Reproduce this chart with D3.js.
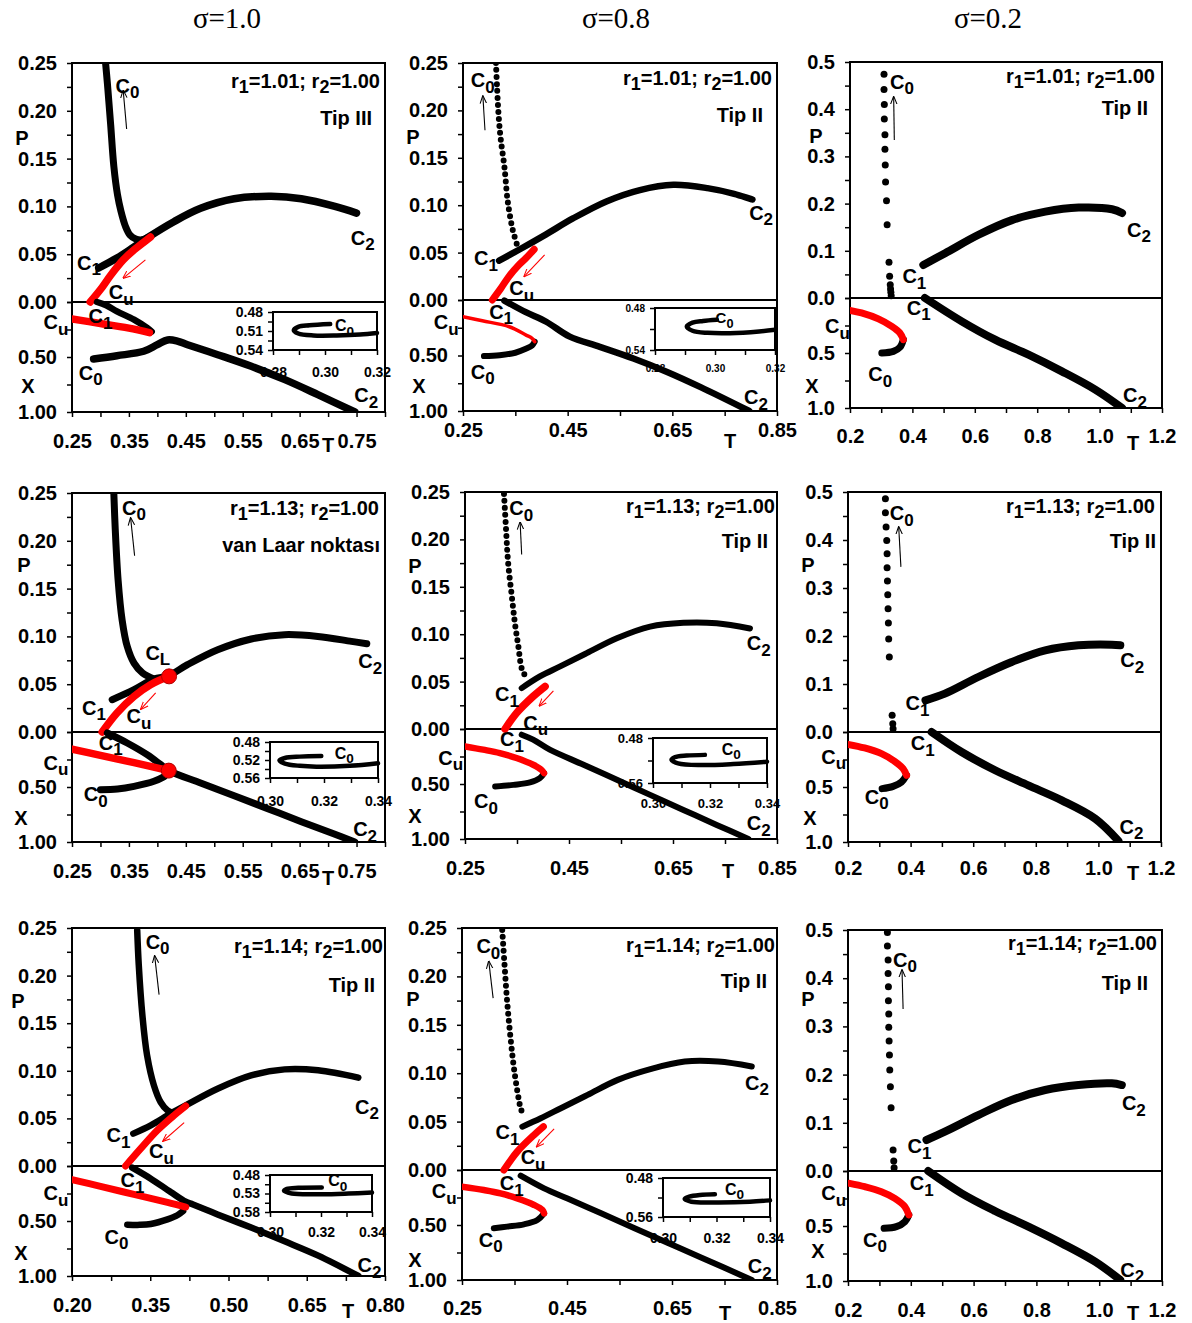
<!DOCTYPE html>
<html><head><meta charset="utf-8">
<script src="https://cdn.jsdelivr.net/npm/d3@7"></script>
<style>
body{margin:0;background:#fff;}
svg text{font-family:"Liberation Sans",Arial,sans-serif;font-weight:bold;fill:#000;}
</style></head><body>
<svg id="c" width="1192" height="1323"></svg>
<script>
// ---------------- text / tick data ----------------
const sigmaTitles = ["σ=1.0", "σ=0.8", "σ=0.2"];
const r1Values = ["1.01", "1.13", "1.14"];
const typeLabels = [["Tip III", "Tip II", "Tip II"], ["van Laar noktası", "Tip II", "Tip II"], ["Tip II", "Tip II", "Tip II"]];
const tTicksA = [0.25, 0.35, 0.45, 0.55, 0.65, 0.75];
const tTicksB = [0.25, 0.45, 0.65, 0.85];
const tTicksC = [0.2, 0.4, 0.6, 0.8, 1.0, 1.2];
const tTicksD = [0.20, 0.35, 0.50, 0.65, 0.80];
const pTicks25 = [0, 0.05, 0.10, 0.15, 0.20, 0.25];
const pTicks5 = [0, 0.1, 0.2, 0.3, 0.4, 0.5];
const xTicksLow = [0.5, 1.0];

// ---------------- sigma=1.0, r1=1.01 ----------------
const s10a_PC0 = [[0.309,0.25],[0.312,0.23],[0.3147,0.21],[0.318,0.185],[0.3235,0.142],[0.330,0.112],[0.336,0.095],[0.344,0.079],[0.352,0.070],[0.362,0.066],[0.372,0.065],[0.382,0.067]];
const s10a_PC12 = [[0.297,0.0356],[0.329,0.046],[0.355,0.056],[0.382,0.067],[0.429,0.084],[0.476,0.098],[0.535,0.108],[0.600,0.1105],[0.653,0.108],[0.712,0.100],[0.750,0.093]];
const s10a_PCu = [[0.282,0],[0.300,0.013],[0.318,0.028],[0.340,0.044],[0.360,0.055],[0.375,0.062],[0.388,0.068]];
const s10a_XC1 = [[0.294,0],[0.31,0.03],[0.329,0.085],[0.359,0.16],[0.382,0.236],[0.39,0.27]];
const s10a_XCu = [[0.25,0.155],[0.30,0.195],[0.35,0.238],[0.386,0.278]];
const s10a_XC0 = [[0.288,0.518],[0.329,0.488],[0.376,0.448],[0.40,0.388],[0.418,0.345],[0.435,0.355],[0.453,0.388],[0.506,0.479],[0.565,0.585],[0.624,0.706],[0.682,0.842],[0.747,1.0]];
const s10a_inset = [[0.302,0.499],[0.294,0.501],[0.2897,0.5035],[0.288,0.5087],[0.2897,0.5139],[0.2955,0.517],[0.3045,0.517],[0.3135,0.5155],[0.32,0.513]];
const s10a_arrowK = [[0.346,0.181],[0.340,0.221]];
const s10a_arrowR = [[0.379,0.044],[0.340,0.025]];

// ---------------- sigma=0.8, r1=1.01 ----------------
const s08a_PC0 = [[0.313,0.25],[0.315,0.225],[0.318,0.195],[0.322,0.17],[0.329,0.141],[0.335,0.106],[0.340,0.088],[0.345,0.074],[0.3545,0.056]];
const s08a_PC12 = [[0.319,0.0415],[0.357,0.053],[0.408,0.069],[0.46,0.086],[0.524,0.104],[0.588,0.116],[0.652,0.1215],[0.717,0.118],[0.768,0.112],[0.803,0.106]];
const s08a_PCu = [[0.306,0],[0.322,0.012],[0.338,0.025],[0.355,0.036],[0.37,0.044],[0.386,0.0535]];
const s08a_XC1 = [[0.329,0.005],[0.37,0.11],[0.409,0.196],[0.454,0.33],[0.5115,0.422],[0.5756,0.527],[0.64,0.648],[0.704,0.785],[0.797,1.0]];
const s08a_XCu = [[0.25,0.15],[0.287,0.187],[0.3385,0.241],[0.3705,0.316],[0.382,0.345],[0.387,0.376]];
const s08a_XC0 = [[0.387,0.376],[0.382,0.41],[0.37,0.44],[0.35,0.475],[0.32,0.497],[0.29,0.505]];
const s08a_inset = [[0.3006,0.4968],[0.296,0.4985],[0.2925,0.501],[0.2906,0.5065],[0.2925,0.5125],[0.2975,0.5155],[0.305,0.516],[0.3147,0.5135],[0.32,0.511]];
const s08a_arrowK = [[0.292,0.179],[0.288,0.215]];
const s08a_arrowR = [[0.406,0.0475],[0.367,0.025]];

// ---------------- sigma=0.2, r1=1.01 ----------------
const s02a_PC0 = [[0.309,0.474],[0.309,0.4415],[0.31,0.41],[0.31,0.379],[0.312,0.346],[0.312,0.315],[0.313,0.282],[0.314,0.246],[0.317,0.206],[0.319,0.155],[0.325,0.076],[0.327,0.046],[0.329,0.028],[0.330,0.019],[0.331,0.012],[0.332,0.005]];
const s02a_PC12 = [[0.435,0.070],[0.505,0.095],[0.612,0.134],[0.719,0.165],[0.826,0.183],[0.933,0.1915],[1.04,0.188],[1.072,0.18]];
const s02a_XC1 = [[0.44,0],[0.558,0.212],[0.665,0.379],[0.772,0.515],[0.879,0.667],[0.986,0.833],[1.072,1.0]];
const s02a_XCu = [[0.2,0.112],[0.237,0.136],[0.291,0.19],[0.334,0.258],[0.36,0.318],[0.371,0.379]];
const s02a_XC0 = [[0.371,0.379],[0.36,0.448],[0.339,0.485],[0.302,0.5]];
const s02a_arrowK = [[0.342,0.3345],[0.34,0.426]];

// ---------------- sigma=1.0, r1=1.13 ----------------
const s10b_PC0 = [[0.3235,0.25],[0.326,0.212],[0.331,0.159],[0.338,0.1175],[0.347,0.0896],[0.359,0.072],[0.374,0.0617],[0.394,0.0554]];
const s10b_PC12 = [[0.3206,0.0338],[0.359,0.0443],[0.394,0.0554],[0.42,0.059],[0.453,0.0704],[0.506,0.086],[0.565,0.0973],[0.6235,0.1018],[0.682,0.1],[0.741,0.0948],[0.768,0.0924]];
const s10b_PCu = [[0.303,0],[0.329,0.0199],[0.359,0.0373],[0.388,0.0495],[0.4206,0.0582]];
const s10b_XC1 = [[0.312,0.009],[0.347,0.1],[0.382,0.206],[0.406,0.297],[0.42,0.351],[0.476,0.4636],[0.535,0.579],[0.594,0.697],[0.653,0.815],[0.712,0.93],[0.747,1.0]];
const s10b_XCu = [[0.25,0.155],[0.30,0.212],[0.359,0.279],[0.42,0.351]];
const s10b_XC0 = [[0.30,0.524],[0.33,0.518],[0.359,0.494],[0.394,0.448],[0.412,0.405]];
const s10b_vanLaar = [[0.4206,0.0582,"P"],[0.42,0.351,"X"]];
const s10b_inset = [[0.319,0.5113],[0.311,0.5125],[0.3055,0.5155],[0.3035,0.521],[0.3055,0.528],[0.311,0.533],[0.3172,0.535],[0.3295,0.533],[0.34,0.5273]];
const s10b_arrowK = [[0.36,0.1844],[0.353,0.2238]];
const s10b_arrowR = [[0.397,0.0408],[0.371,0.024]];

// ---------------- sigma=0.8, r1=1.13 ----------------
const s08b_PC0 = [[0.325,0.248],[0.329,0.21],[0.333,0.175],[0.34,0.14],[0.346,0.1115],[0.3526,0.087],[0.359,0.064],[0.367,0.0547]];
const s08b_PC12 = [[0.359,0.0431],[0.394,0.0554],[0.433,0.066],[0.484,0.08],[0.542,0.0957],[0.606,0.108],[0.67,0.112],[0.734,0.1115],[0.798,0.106]];
const s08b_PCu = [[0.327,0],[0.349,0.0168],[0.381,0.0344],[0.404,0.0449]];
const s08b_XC1 = [[0.359,0.052],[0.381,0.097],[0.413,0.188],[0.478,0.325],[0.542,0.462],[0.606,0.599],[0.67,0.736],[0.734,0.872],[0.795,1.0]];
const s08b_XCu = [[0.25,0.158],[0.285,0.188],[0.317,0.219],[0.349,0.264],[0.381,0.325],[0.397,0.371],[0.402,0.401]];
const s08b_XC0 = [[0.402,0.401],[0.394,0.447],[0.375,0.486],[0.343,0.508],[0.308,0.523]];
const s08b_inset = [[0.3182,0.51],[0.3118,0.5113],[0.3076,0.5143],[0.3065,0.519],[0.3088,0.525],[0.3165,0.5281],[0.3282,0.5263],[0.34,0.5221]];
const s08b_arrowK = [[0.359,0.184],[0.356,0.218]];
const s08b_arrowR = [[0.42,0.0403],[0.393,0.0245]];

// ---------------- sigma=0.2, r1=1.13 ----------------
const s02b_PC0 = [[0.3195,0.486],[0.3195,0.457],[0.3217,0.427],[0.3238,0.399],[0.3249,0.3715],[0.3249,0.342],[0.326,0.3146],[0.327,0.286],[0.328,0.257],[0.329,0.227],[0.330,0.194],[0.332,0.156],[0.341,0.0347],[0.343,0.0174],[0.344,0.007]];
const s02b_PC12 = [[0.4476,0.066],[0.5095,0.0799],[0.616,0.1146],[0.723,0.1458],[0.83,0.170],[0.936,0.1806],[1.043,0.182],[1.07,0.1806]];
const s02b_XC1 = [[0.467,0],[0.563,0.182],[0.67,0.348],[0.776,0.485],[0.883,0.621],[0.99,0.788],[1.064,0.99]];
const s02b_XCu = [[0.2,0.112],[0.253,0.145],[0.307,0.197],[0.349,0.267],[0.376,0.333],[0.387,0.394]];
const s02b_XC0 = [[0.387,0.394],[0.371,0.4545],[0.344,0.494],[0.309,0.515]];
const s02b_arrowK = [[0.369,0.344],[0.362,0.427]];

// ---------------- sigma=1.0, r1=1.14 ----------------
const s10c_PC0 = [[0.325,0.2476],[0.328,0.211],[0.335,0.158],[0.344,0.116],[0.357,0.0847],[0.37,0.067],[0.383,0.0585],[0.3926,0.056]];
const s10c_PC12 = [[0.3175,0.034],[0.351,0.0427],[0.389,0.055],[0.418,0.0637],[0.479,0.0812],[0.5434,0.0952],[0.6076,0.1015],[0.6718,0.1005],[0.7488,0.0928]];
const s10c_PCu = [[0.3027,0],[0.3316,0.0182],[0.3637,0.0375],[0.3958,0.0532],[0.418,0.063]];
const s10c_XC1 = [[0.3155,0.015],[0.351,0.115],[0.389,0.236],[0.418,0.325],[0.432,0.35],[0.479,0.44],[0.5434,0.56],[0.6076,0.685],[0.672,0.815],[0.749,1.0]];
const s10c_XCu = [[0.2,0.124],[0.2546,0.185],[0.3187,0.258],[0.383,0.33],[0.418,0.373]];
const s10c_XC0 = [[0.306,0.533],[0.33,0.535],[0.351,0.527],[0.383,0.485],[0.402,0.448],[0.413,0.41]];
const s10c_inset = [[0.3203,0.5136],[0.3111,0.5145],[0.3066,0.5173],[0.3055,0.5227],[0.3085,0.53],[0.3203,0.5318],[0.3308,0.53],[0.34,0.5273]];
const s10c_arrowK = [[0.3669,0.18],[0.3585,0.2206]];
const s10c_arrowR = [[0.415,0.0455],[0.3746,0.0263]];

// ---------------- sigma=0.8, r1=1.14 ----------------
const s08c_PC0 = [[0.3266,0.248],[0.331,0.212],[0.336,0.174],[0.3425,0.136],[0.349,0.105],[0.3566,0.0776],[0.3617,0.0638],[0.368,0.055]];
const s08c_PC12 = [[0.3649,0.0448],[0.40,0.0534],[0.4383,0.0638],[0.4893,0.0776],[0.5467,0.0931],[0.6106,0.1045],[0.6744,0.112],[0.738,0.112],[0.802,0.107]];
const s08c_PCu = [[0.3298,0],[0.3553,0.019],[0.3872,0.0362],[0.405,0.0448]];
const s08c_XC1 = [[0.3617,0.0515],[0.4064,0.167],[0.451,0.26],[0.515,0.394],[0.5787,0.53],[0.6425,0.664],[0.7063,0.797],[0.802,1.0]];
const s08c_XCu = [[0.25,0.152],[0.2915,0.182],[0.3234,0.212],[0.3553,0.258],[0.3872,0.318],[0.4032,0.364],[0.4063,0.394]];
const s08c_XC0 = [[0.4063,0.394],[0.3936,0.4545],[0.368,0.494],[0.336,0.515],[0.3106,0.53]];
const s08c_inset = [[0.3194,0.5134],[0.3138,0.5148],[0.3098,0.5183],[0.3081,0.5231],[0.3106,0.5287],[0.32,0.5301],[0.3325,0.5287],[0.34,0.5259]];
const s08c_arrowK = [[0.3093,0.1776],[0.301,0.2155]];
const s08c_arrowR = [[0.4255,0.0424],[0.3923,0.0241]];

// ---------------- sigma=0.2, r1=1.14 ----------------
const s02c_PC0 = [[0.3255,0.495],[0.3255,0.467],[0.3277,0.438],[0.3277,0.41],[0.3287,0.3824],[0.3287,0.3534],[0.3298,0.3257],[0.3298,0.298],[0.3309,0.2697],[0.332,0.2407],[0.333,0.2095],[0.335,0.175],[0.3372,0.1314],[0.3436,0.0436],[0.3457,0.0207],[0.3468,0.0069]];
const s02c_PC12 = [[0.45,0.0643],[0.5085,0.0816],[0.615,0.116],[0.7213,0.1473],[0.8277,0.168],[0.934,0.1784],[1.04,0.1819],[1.072,0.1784]];
const s02c_XC1 = [[0.4553,0],[0.5617,0.203],[0.668,0.3636],[0.7745,0.506],[0.881,0.6576],[0.987,0.824],[1.067,0.99]];
const s02c_XCu = [[0.205,0.112],[0.2532,0.1424],[0.3064,0.188],[0.349,0.2485],[0.381,0.324],[0.3936,0.4]];
const s02c_XC0 = [[0.3936,0.4],[0.381,0.4606],[0.354,0.506],[0.315,0.521]];
const s02c_arrowK = [[0.3755,0.336],[0.372,0.417]];

// ---------------- curve labels: [main, sub, T, value, part] ----------------
const s10a_labels = [["C","0",0.3265,0.219,"P"],["C","1",0.259,0.0338,"P"],["C","2",0.74,0.06,"P"],["C","u",0.3147,0.003,"P"],["C","u",0.20,0.245,"X"],["C","1",0.279,0.19,"X"],["C","0",0.2618,0.706,"X"],["C","2",0.746,0.912,"X"]];
const s08a_labels = [["C","0",0.2647,0.2246,"P"],["C","1",0.2712,0.037,"P"],["C","2",0.7968,0.0845,"P"],["C","u",0.3385,0.0053,"P"],["C","u",0.1942,0.262,"X"],["C","1",0.30,0.17,"X"],["C","0",0.2647,0.708,"X"],["C","2",0.787,0.94,"X"]];
const s02a_labels = [["C","0",0.328,0.4437,"P"],["C","1",0.368,0.0317,"P"],["C","2",1.0877,0.130,"P"],["C","1",0.3818,0.1515,"X"],["C","u",0.1198,0.318,"X"],["C","0",0.2588,0.7576,"X"],["C","2",1.0749,0.948,"X"]];
const s10b_labels = [["C","0",0.338,0.2273,"P"],["C","L",0.379,0.0757,"P"],["C","1",0.2676,0.0181,"P"],["C","2",0.753,0.067,"P"],["C","u",0.3459,0.0094,"P"],["C","1",0.297,0.16,"X"],["C","u",0.20,0.342,"X"],["C","0",0.2706,0.63,"X"],["C","2",0.744,0.948,"X"]];
const s08b_labels = [["C","0",0.3353,0.2255,"P"],["C","1",0.3077,0.0291,"P"],["C","2",0.7917,0.0834,"P"],["C","u",0.3622,-0.0007,"P"],["C","1",0.3173,0.158,"X"],["C","u",0.1987,0.325,"X"],["C","0",0.2673,0.72,"X"],["C","2",0.7917,0.918,"X"]];
const s02b_labels = [["C","0",0.3334,0.441,"P"],["C","1",0.3836,0.045,"P"],["C","2",1.07,0.1354,"P"],["C","1",0.4006,0.1667,"X"],["C","u",0.1146,0.288,"X"],["C","0",0.2534,0.6515,"X"],["C","2",1.0677,0.924,"X"]];
const s10c_labels = [["C","0",0.3412,0.2283,"P"],["C","1",0.2661,0.0252,"P"],["C","2",0.7424,0.055,"P"],["C","u",0.3476,0.0084,"P"],["C","1",0.2931,0.191,"X"],["C","u",0.1454,0.312,"X"],["C","0",0.2623,0.706,"X"],["C","2",0.7475,0.9636,"X"]];
const s08c_labels = [["C","0",0.2774,0.224,"P"],["C","1",0.3138,0.0321,"P"],["C","2",0.7892,0.0828,"P"],["C","u",0.3617,0.0059,"P"],["C","1",0.3221,0.182,"X"],["C","u",0.1926,0.2576,"X"],["C","0",0.2819,0.697,"X"],["C","2",0.7943,0.939,"X"]];
const s02c_labels = [["C","0",0.3436,0.424,"P"],["C","1",0.3894,0.0367,"P"],["C","2",1.0723,0.1266,"P"],["C","1",0.3968,0.1727,"X"],["C","u",0.1149,0.2636,"X"],["C","0",0.2479,0.688,"X"],["C","2",1.067,0.96,"X"]];
// inset C0 label anchors (main-panel data coordinates)
const insetC0Labels = [[0.712,0.267],[0.7327,0.211],null,[0.7118,0.245],[0.7436,0.234],null,[0.691,0.182],[0.751,0.227],null];

// ---------------- layout ----------------
const layout = [
 {l:72,r:385,t:63,m:302,b:412,tDom:[0.25,0.80],tLab:tTicksA,tStep:0.05,col:0,xBase:448,Tpos:[328,452],Ppos:[22,145],Xpos:[28,393],ann:[380,88],tip:[372,125]},
 {l:463,r:777,t:63,m:300,b:411,tDom:[0.25,0.85],tLab:tTicksB,tStep:0.1,col:1,xBase:437,Tpos:[730,448],Ppos:[413,144],Xpos:[419,393],ann:[772,85],tip:[763,122]},
 {l:850,r:1162,t:62,m:298,b:408,tDom:[0.2,1.2],tLab:tTicksC,tStep:0.1,col:2,xBase:443,Tpos:[1133,450],Ppos:[816,143],Xpos:[812,393],ann:[1155,83],tip:[1148,115]},
 {l:72,r:385,t:493,m:732,b:842,tDom:[0.25,0.80],tLab:tTicksA,tStep:0.05,col:0,xBase:878,Tpos:[328,885],Ppos:[24,572],Xpos:[21,825],ann:[379,515],tip:[380,552]},
 {l:465,r:777,t:492,m:729,b:839,tDom:[0.25,0.85],tLab:tTicksB,tStep:0.1,col:1,xBase:875,Tpos:[728,878],Ppos:[415,573],Xpos:[415,823],ann:[775,513],tip:[768,548]},
 {l:848,r:1161,t:492,m:732,b:842,tDom:[0.2,1.2],tLab:tTicksC,tStep:0.1,col:2,xBase:875,Tpos:[1133,880],Ppos:[808,572],Xpos:[810,825],ann:[1155,513],tip:[1156,548]},
 {l:72,r:385,t:928,m:1166,b:1276,tDom:[0.2,0.8],tLab:tTicksD,tStep:0.075,col:0,xBase:1312,Tpos:[348,1318],Ppos:[18,1008],Xpos:[21,1260],ann:[383,953],tip:[375,992]},
 {l:462,r:777,t:928,m:1170,b:1280,tDom:[0.25,0.85],tLab:tTicksB,tStep:0.1,col:1,xBase:1315,Tpos:[725,1320],Ppos:[413,1006],Xpos:[415,1267],ann:[775,952],tip:[767,988]},
 {l:848,r:1162,t:930,m:1171,b:1281,tDom:[0.2,1.2],tLab:tTicksC,tStep:0.1,col:2,xBase:1317,Tpos:[1133,1320],Ppos:[808,1006],Xpos:[818,1258],ann:[1157,950],tip:[1148,990]}
];
const insets = [
 {data:s10a_inset,box:[273,312,377,350],tDom:[0.28,0.32],xDom:[0.48,0.54],yLab:[0.48,0.51,0.54],yTicks:[0.48,0.495,0.51,0.525,0.54],xLab:[0.28,0.30,0.32],fs:14,xBase:377,lfs:16},
 {data:s08a_inset,box:[655,308,775,350],tDom:[0.28,0.32],xDom:[0.48,0.54],yLab:[0.48,0.54],yTicks:[0.48,0.51,0.54],xLab:[0.28,0.30,0.32],fs:10,xBase:372,lfs:15},
 null,
 {data:s10b_inset,box:[270,742,378,778],tDom:[0.30,0.34],xDom:[0.48,0.56],yLab:[0.48,0.52,0.56],yTicks:[0.48,0.50,0.52,0.54,0.56],xLab:[0.30,0.32,0.34],fs:14,xBase:806,lfs:16},
 {data:s08b_inset,box:[653,738,767,783],tDom:[0.30,0.34],xDom:[0.48,0.56],yLab:[0.48,0.56],yTicks:[0.48,0.52,0.56],xLab:[0.30,0.32,0.34],fs:13,xBase:808,lfs:16},
 null,
 {data:s10c_inset,box:[270,1175,372,1212],tDom:[0.30,0.34],xDom:[0.48,0.58],yLab:[0.48,0.53,0.58],yTicks:[0.48,0.505,0.53,0.555,0.58],xLab:[0.30,0.32,0.34],fs:14,xBase:1237,lfs:16},
 {data:s08c_inset,box:[663,1178,770,1217],tDom:[0.30,0.34],xDom:[0.48,0.56],yLab:[0.48,0.56],yTicks:[0.48,0.52,0.56],xLab:[0.30,0.32,0.34],fs:14,xBase:1243,lfs:16},
 null
];
const RED = "#ff0000", BLK = "#000";
function seriesFor(k) {
  const S = [
   [ {d:s10a_PC0,p:"P",c:BLK,w:7},{d:s10a_PC12,p:"P",c:BLK,w:7.5},{d:s10a_PCu,p:"P",c:RED,w:7.5},
     {d:s10a_XC0,p:"X",c:BLK,w:7.5},{d:s10a_XC1,p:"X",c:BLK,w:6.5},{d:s10a_XCu,p:"X",c:RED,w:7.5} ],
   [ {d:s08a_PC0,p:"P",c:BLK,w:6,s:"dotted"},{d:s08a_PC12,p:"P",c:BLK,w:6.5},{d:s08a_PCu,p:"P",c:RED,w:7},
     {d:s08a_XC1,p:"X",c:BLK,w:6.5},{d:s08a_XC0,p:"X",c:BLK,w:6},{d:s08a_XCu,p:"X",c:RED,w:3.5} ],
   [ {d:s02a_PC0,p:"P",c:BLK,w:3.5,s:"dots"},{d:s02a_PC12,p:"P",c:BLK,w:8},
     {d:s02a_XC1,p:"X",c:BLK,w:8},{d:s02a_XC0,p:"X",c:BLK,w:7},{d:s02a_XCu,p:"X",c:RED,w:7} ],
   [ {d:s10b_PC0,p:"P",c:BLK,w:7},{d:s10b_PC12,p:"P",c:BLK,w:7},{d:s10b_PCu,p:"P",c:RED,w:7.5},
     {d:s10b_XC1,p:"X",c:BLK,w:7},{d:s10b_XC0,p:"X",c:BLK,w:7},{d:s10b_XCu,p:"X",c:RED,w:7.5} ],
   [ {d:s08b_PC0,p:"P",c:BLK,w:6,s:"dotted"},{d:s08b_PC12,p:"P",c:BLK,w:6},{d:s08b_PCu,p:"P",c:RED,w:7.5},
     {d:s08b_XC1,p:"X",c:BLK,w:6},{d:s08b_XC0,p:"X",c:BLK,w:6},{d:s08b_XCu,p:"X",c:RED,w:6.5} ],
   [ {d:s02b_PC0,p:"P",c:BLK,w:3.5,s:"dots"},{d:s02b_PC12,p:"P",c:BLK,w:8},
     {d:s02b_XC1,p:"X",c:BLK,w:8},{d:s02b_XC0,p:"X",c:BLK,w:7},{d:s02b_XCu,p:"X",c:RED,w:7} ],
   [ {d:s10c_PC0,p:"P",c:BLK,w:6.5},{d:s10c_PC12,p:"P",c:BLK,w:6.5},{d:s10c_PCu,p:"P",c:RED,w:7},
     {d:s10c_XC1,p:"X",c:BLK,w:6.5},{d:s10c_XC0,p:"X",c:BLK,w:6.5},{d:s10c_XCu,p:"X",c:RED,w:7} ],
   [ {d:s08c_PC0,p:"P",c:BLK,w:6,s:"dotted"},{d:s08c_PC12,p:"P",c:BLK,w:6},{d:s08c_PCu,p:"P",c:RED,w:7},
     {d:s08c_XC1,p:"X",c:BLK,w:6},{d:s08c_XC0,p:"X",c:BLK,w:6},{d:s08c_XCu,p:"X",c:RED,w:6.5} ],
   [ {d:s02c_PC0,p:"P",c:BLK,w:3.5,s:"dots"},{d:s02c_PC12,p:"P",c:BLK,w:8},
     {d:s02c_XC1,p:"X",c:BLK,w:8},{d:s02c_XC0,p:"X",c:BLK,w:7},{d:s02c_XCu,p:"X",c:RED,w:7} ]
  ];
  return S[k];
}
const labelSets = [s10a_labels,s08a_labels,s02a_labels,s10b_labels,s08b_labels,s02b_labels,s10c_labels,s08c_labels,s02c_labels];
const arrowsK = [s10a_arrowK,s08a_arrowK,s02a_arrowK,s10b_arrowK,s08b_arrowK,s02b_arrowK,s10c_arrowK,s08c_arrowK,s02c_arrowK];
const arrowsR = [s10a_arrowR,s08a_arrowR,null,s10b_arrowR,s08b_arrowR,null,s10c_arrowR,s08c_arrowR,null];

// ---------------- drawing ----------------
const svg = d3.select("#c");
const defs = svg.append("defs");
[["ahK",BLK],["ahR",RED]].forEach(([id,col]) => {
  defs.append("marker").attr("id",id).attr("viewBox","0 0 10 10").attr("refX",9).attr("refY",5)
    .attr("markerWidth",8).attr("markerHeight",8).attr("markerUnits","userSpaceOnUse").attr("orient","auto")
    .append("path").attr("d","M0,1 L10,5 L0,9").attr("fill","none").attr("stroke",col).attr("stroke-width",1.3);
});

const steps = (d0,d1,s) => d3.range(0, Math.round((d1-d0)/s)+1).map(i => +(d0+i*s).toFixed(5));
const TFS = 20;

function styleAxis(sel, fs) {
  sel.select(".domain").remove();
  sel.attr("font-family",null).attr("font-size",null);
  sel.selectAll("line").attr("stroke","#000").attr("stroke-width",1.5);
  sel.selectAll("text").attr("font-size",fs).attr("fill","#000");
}

function cLabel(g, x, y, main, sub, fs) {
  const t = g.append("text").attr("x",x).attr("y",y).attr("font-size",fs);
  t.append("tspan").text(main);
  t.append("tspan").attr("dy",fs*0.28).attr("font-size",fs*0.85).text(sub);
}

sigmaTitles.forEach((s,i) => {
  svg.append("text").attr("x",[227,616,988][i]).attr("y",28).attr("text-anchor","middle")
    .style("font-family","'Liberation Serif','Times New Roman',serif").style("font-weight","normal")
    .attr("font-size",29).text(s);
});

layout.forEach((L, k) => {
  const row = Math.floor(k/3);
  const g = svg.append("g");
  const x = d3.scaleLinear().domain(L.tDom).range([L.l, L.r]);
  const pMax = L.col === 2 ? 0.5 : 0.25;
  const yP = d3.scaleLinear().domain([0, pMax]).range([L.m, L.t]);
  const yX = d3.scaleLinear().domain([0, 1]).range([L.m, L.b]);
  const pFmt = d3.format(L.col === 2 ? ".1f" : ".2f");
  const tFmt = d3.format(L.col === 2 ? ".1f" : ".2f");
  const clipId = "clip" + k;
  defs.append("clipPath").attr("id",clipId).append("rect")
    .attr("x",L.l).attr("y",L.t).attr("width",L.r-L.l).attr("height",L.b-L.t);

  // axes: minor ticks
  g.append("g").attr("transform",`translate(${L.l},0)`)
    .call(d3.axisLeft(yP).tickValues(steps(0,pMax,pMax/10)).tickSize(5).tickFormat(""))
    .call(s => styleAxis(s,TFS));
  g.append("g").attr("transform",`translate(${L.l},0)`)
    .call(d3.axisLeft(yX).tickValues([0,0.25,0.5,0.75,1]).tickSize(5).tickFormat(""))
    .call(s => styleAxis(s,TFS));
  g.append("g").attr("transform",`translate(0,${L.b})`)
    .call(d3.axisBottom(x).tickValues(steps(L.tDom[0],L.tDom[1],L.tStep)).tickSize(5).tickFormat(""))
    .call(s => styleAxis(s,TFS));
  // axes: labels
  g.append("g").attr("transform",`translate(${L.l},0)`)
    .call(d3.axisLeft(yP).tickValues(L.col === 2 ? pTicks5 : pTicks25).tickSize(0).tickPadding(15).tickFormat(pFmt))
    .call(s => styleAxis(s,TFS));
  g.append("g").attr("transform",`translate(${L.l},0)`)
    .call(d3.axisLeft(yX).tickValues(xTicksLow).tickSize(0).tickPadding(15).tickFormat(pFmt))
    .call(s => styleAxis(s,TFS));
  g.append("g").attr("transform",`translate(0,${L.b})`)
    .call(d3.axisBottom(x).tickValues(L.tLab).tickSize(0).tickPadding(L.xBase - L.b - 14).tickFormat(tFmt))
    .call(s => styleAxis(s,TFS));

  // frame
  g.append("rect").attr("x",L.l).attr("y",L.t).attr("width",L.r-L.l).attr("height",L.b-L.t)
    .attr("fill","none").attr("stroke","#000").attr("stroke-width",2);
  g.append("line").attr("x1",L.l).attr("x2",L.r).attr("y1",yP(0)).attr("y2",yP(0))
    .attr("stroke","#000").attr("stroke-width",2);

  // axis titles
  g.append("text").attr("x",L.Ppos[0]).attr("y",L.Ppos[1]).attr("text-anchor","middle").attr("font-size",TFS).text("P");
  g.append("text").attr("x",L.Xpos[0]).attr("y",L.Xpos[1]).attr("text-anchor","middle").attr("font-size",TFS).text("X");
  g.append("text").attr("x",L.Tpos[0]).attr("y",L.Tpos[1]).attr("text-anchor","middle").attr("font-size",TFS).text("T");

  // inset
  const I = insets[k];
  if (I) {
    const ig = g.append("g");
    const ix = d3.scaleLinear().domain(I.tDom).range([I.box[0], I.box[2]]);
    const iy = d3.scaleLinear().domain(I.xDom).range([I.box[1], I.box[3]]);
    ig.append("g").attr("transform",`translate(${I.box[0]},0)`)
      .call(d3.axisLeft(iy).tickValues(I.yTicks).tickSize(5).tickFormat("")).call(s => styleAxis(s,I.fs));
    ig.append("g").attr("transform",`translate(${I.box[0]},0)`)
      .call(d3.axisLeft(iy).tickValues(I.yLab).tickSize(0).tickPadding(10).tickFormat(d3.format(".2f"))).call(s => styleAxis(s,I.fs));
    ig.append("g").attr("transform",`translate(0,${I.box[3]})`)
      .call(d3.axisBottom(ix).tickValues(steps(I.tDom[0],I.tDom[1],0.01)).tickSize(5).tickFormat("")).call(s => styleAxis(s,I.fs));
    ig.append("g").attr("transform",`translate(0,${I.box[3]})`)
      .call(d3.axisBottom(ix).tickValues(I.xLab).tickSize(0).tickPadding(I.xBase - I.box[3] - I.fs*0.71).tickFormat(d3.format(".2f"))).call(s => styleAxis(s,I.fs));
    ig.append("rect").attr("x",I.box[0]).attr("y",I.box[1]).attr("width",I.box[2]-I.box[0]).attr("height",I.box[3]-I.box[1])
      .attr("fill","none").attr("stroke","#000").attr("stroke-width",2);
    ig.append("path").attr("d", d3.line().x(d=>ix(d[0])).y(d=>iy(d[1])).curve(d3.curveCatmullRom.alpha(0.5))(I.data))
      .attr("fill","none").attr("stroke","#000").attr("stroke-width",4.5).attr("stroke-linecap","round");
    const lc = insetC0Labels[k];
    cLabel(g, x(lc[0]), yX(lc[1]), "C", "0", I.lfs);
  }

  // curves
  const cg = g.append("g").attr("clip-path",`url(#${clipId})`);
  seriesFor(k).forEach(s => {
    const ys = s.p === "P" ? yP : yX;
    if (s.s === "dots") {
      cg.append("g").selectAll("circle").data(s.d).join("circle")
        .attr("cx",d=>x(d[0])).attr("cy",d=>ys(d[1])).attr("r",s.w).attr("fill",s.c);
    } else {
      cg.append("path").attr("d", d3.line().x(d=>x(d[0])).y(d=>ys(d[1])).curve(d3.curveCatmullRom.alpha(0.5))(s.d))
        .attr("fill","none").attr("stroke",s.c).attr("stroke-width",s.w)
        .attr("stroke-linecap","round").attr("stroke-linejoin","round")
        .attr("stroke-dasharray", s.s === "dotted" ? "0,7" : null);
    }
  });
  if (k === 3) {
    g.selectAll("circle.vl").data(s10b_vanLaar).join("circle").attr("class","vl")
      .attr("cx",d=>x(d[0])).attr("cy",d=>(d[2]==="P"?yP:yX)(d[1])).attr("r",7.5)
      .attr("fill",RED).attr("stroke","#b00000").attr("stroke-width",1);
  }

  // arrows
  const ak = arrowsK[k];
  g.append("line").attr("x1",x(ak[0][0])).attr("y1",yP(ak[0][1])).attr("x2",x(ak[1][0])).attr("y2",yP(ak[1][1]))
    .attr("stroke",BLK).attr("stroke-width",1.1).attr("marker-end","url(#ahK)");
  const ar = arrowsR[k];
  if (ar) g.append("line").attr("x1",x(ar[0][0])).attr("y1",yP(ar[0][1])).attr("x2",x(ar[1][0])).attr("y2",yP(ar[1][1]))
    .attr("stroke",RED).attr("stroke-width",1.1).attr("marker-end","url(#ahR)");

  // curve labels
  labelSets[k].forEach(lb => {
    const ys = lb[4] === "P" ? yP : yX;
    cLabel(g, x(lb[2]), ys(lb[3]), lb[0], lb[1], 20);
  });

  // annotations
  const r1 = r1Values[row];
  const t = g.append("text").attr("x",L.ann[0]).attr("y",L.ann[1]).attr("text-anchor","end").attr("font-size",20);
  t.append("tspan").text("r");
  t.append("tspan").attr("dy",5).attr("font-size",18).text("1");
  t.append("tspan").attr("dy",-5).text("=" + r1 + "; r");
  t.append("tspan").attr("dy",5).attr("font-size",18).text("2");
  t.append("tspan").attr("dy",-5).text("=1.00");
  g.append("text").attr("x",L.tip[0]).attr("y",L.tip[1]).attr("text-anchor","end").attr("font-size",20)
    .text(typeLabels[row][L.col]);
});
</script>
</body></html>
